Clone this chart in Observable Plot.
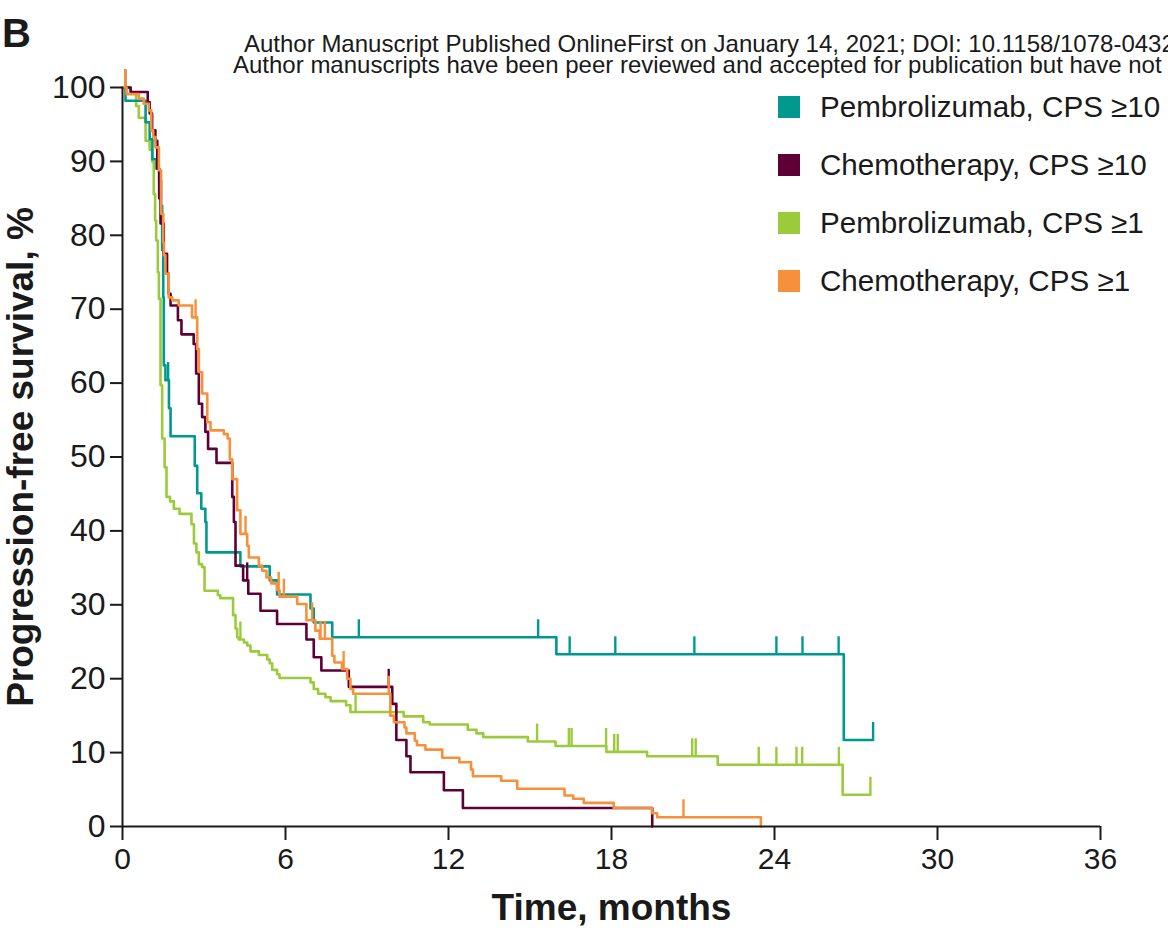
<!DOCTYPE html>
<html>
<head>
<meta charset="utf-8">
<script src="https://cdn.jsdelivr.net/npm/d3@7"></script>
<script src="https://cdn.jsdelivr.net/npm/@observablehq/plot@0.6"></script>
<style>
html,body{margin:0;padding:0;background:#fff;overflow:hidden;}
#wrap{position:relative;width:1168px;height:928px;overflow:hidden;font-family:"Liberation Sans",Arial,sans-serif;color:#1a1a1a;}
#chart{position:absolute;left:0;top:0;}
.abs{position:absolute;white-space:nowrap;}
.hdr{font-size:24px;line-height:20px;}
.panel{font-size:40px;line-height:40px;font-weight:bold;}
.sw{position:absolute;width:22px;height:22px;}
.lg{font-size:29.6px;line-height:28px;}
</style>
</head>
<body>
<div id="wrap">
  <div id="chart"></div>
  <div class="abs panel" style="left:2px;top:13px;">B</div>
  <div class="abs hdr" style="left:244px;top:33.7px;">Author Manuscript Published OnlineFirst on January 14, 2021; DOI: 10.1158/1078-0432</div>
  <div class="abs hdr" style="left:233px;top:54.7px;">Author manuscripts have been peer reviewed and accepted for publication but have not</div>
  <div id="legend"></div>
</div>
<script>
// ---- data ----
const xTicks = [0, 6, 12, 18, 24, 30, 36];
const yTicks = [0, 10, 20, 30, 40, 50, 60, 70, 80, 90, 100];
const seriesNames = ["Pembrolizumab, CPS \u226510", "Chemotherapy, CPS \u226510", "Pembrolizumab, CPS \u22651", "Chemotherapy, CPS \u22651"];
const seriesColors = ["#00998F", "#5E0035", "#9BCB3B", "#F7903A"];

// Kaplan-Meier steps: [time (months), progression-free survival (%)]
const pembro10Steps = [[0,100],[0.11,98.2],[0.85,95.3],[1.0,93],[1.1,90.3],[1.25,89],[1.35,87.4],[1.42,84],[1.46,78],[1.5,71.6],[1.52,62.4],[1.58,60.4],[1.71,56.6],[1.77,52.8],[2.66,48.8],[2.75,45.1],[2.9,43.0],[3.05,41.2],[3.09,37.1],[4.34,35.2],[5.42,33.3],[5.69,31.4],[6.92,29.5],[7.04,27.6],[7.72,25.6],[15.97,23.3],[26.55,11.7],[27.63,11.7]];
const chemo10Steps = [[0,100],[0.3,99.4],[0.93,98],[1.0,96.5],[1.09,94.2],[1.21,92.8],[1.28,89],[1.35,85],[1.4,81.6],[1.52,77.5],[1.64,74.8],[1.7,72.1],[1.77,70.5],[2.04,68.5],[2.17,66.6],[2.62,65.3],[2.71,61.3],[2.81,57.2],[2.93,55.4],[3.05,53.4],[3.15,51.1],[3.46,49.2],[4.04,44.6],[4.1,41.2],[4.16,35.3],[4.44,33.3],[4.63,31.5],[5.08,29.2],[5.69,27.4],[6.77,25.3],[7.04,22.9],[7.32,21.1],[8.33,18.9],[9.93,16.6],[10.08,11.7],[10.45,9.5],[10.6,7.35],[11.83,4.9],[12.53,2.5],[19.5,0]];
const pembro1Steps = [[0,100],[0.3,99.3],[0.5,97.5],[0.6,95.9],[0.85,92.8],[1.0,91.6],[1.09,90],[1.15,85.6],[1.2,82],[1.24,79.3],[1.3,75],[1.34,71.4],[1.4,59.7],[1.46,52.5],[1.55,48.6],[1.62,44.6],[1.75,44.0],[1.89,43.0],[2.1,42.3],[2.54,40.9],[2.63,38.3],[2.72,37.1],[2.81,35.5],[2.93,35.1],[3.02,31.9],[3.51,31.3],[3.6,30.9],[4.07,28.6],[4.16,26.8],[4.22,25.6],[4.28,25.3],[4.47,24.9],[4.59,24.5],[4.71,23.7],[5.02,23.2],[5.33,22.6],[5.42,22.1],[5.51,21.2],[5.69,20.6],[5.78,20.1],[6.92,19.5],[7.04,18.6],[7.2,17.96],[7.47,17.5],[7.66,16.96],[8.23,16.4],[8.39,15.5],[10.35,14.9],[11.07,14.1],[11.31,13.8],[12.71,13.1],[13.03,12.6],[13.28,12.1],[14.92,11.5],[15.94,10.9],[17.81,10.1],[19.31,9.5],[21.91,8.35],[26.51,4.3],[27.53,4.3]];
const chemo1Steps = [[0,100],[0.15,99.1],[0.6,98.5],[0.78,97.8],[0.97,96.9],[1.06,94.2],[1.13,93.3],[1.21,91.9],[1.34,88.8],[1.42,82.9],[1.5,79],[1.52,77.3],[1.58,74.8],[1.7,71.6],[1.83,71.2],[2.07,70.5],[2.56,68.9],[2.75,64.6],[2.81,61.5],[2.93,58.6],[3.12,54.7],[3.24,53.6],[3.73,53.1],[3.87,52.5],[3.95,49.7],[4.04,47.0],[4.22,42.8],[4.34,39.6],[4.59,38.0],[4.65,36.4],[5.02,35.3],[5.14,34.6],[5.3,33.7],[5.47,32.9],[5.69,32.0],[5.78,31.1],[6.43,30.1],[6.77,27.9],[7.1,26.5],[7.26,25.4],[7.72,23.1],[7.8,22.2],[8.08,21.3],[8.27,20.0],[8.39,18.6],[8.49,17.96],[9.86,15.0],[9.99,14.1],[10.38,13.4],[10.45,12.6],[10.76,11.6],[10.84,11.0],[11.15,10.4],[11.77,9.3],[12.4,8.7],[12.83,7.7],[12.9,6.8],[13.94,6.2],[14.53,5.1],[16.27,4.2],[16.59,3.75],[16.98,3.2],[18.08,2.5],[19.49,1.8],[19.68,1.25],[23.5,0]];

// censoring times (months)
const pembro10Censor = [1.68, 8.7, 15.3, 16.46, 18.14, 21.05, 24.07, 25.03, 26.36, 27.63];
const chemo10Censor = [0.1, 4.59, 9.8];
const pembro1Censor = [4.34, 8.58, 15.26, 16.43, 16.53, 17.8, 18.1, 18.23, 20.97, 21.1, 23.42, 24.07, 24.81, 25.02, 26.37, 27.53];
const chemo1Censor = [0.1, 2.69, 4.53, 5.75, 5.94, 6.98, 7.29, 7.45, 8.14, 9.8, 20.65];

// ---- build ----
const stepsList = [pembro10Steps, chemo10Steps, pembro1Steps, chemo1Steps];
const censorList = [pembro10Censor, chemo10Censor, pembro1Censor, chemo1Censor];
const drawOrder = [2, 0, 1, 3];
const censorTick = 2.37; // tick height in survival units

function survivalAt(steps, t) {
  let s = steps[0][1];
  for (const [st, sv] of steps) if (st <= t + 1e-9) s = sv;
  return s;
}

const lineMarks = [];
const censorMarks = [];
for (const i of drawOrder) {
  const pts = stepsList[i].map(([t, s]) => ({t, s}));
  lineMarks.push(Plot.line(pts, {x: "t", y: "s", curve: "step-after", stroke: seriesColors[i], strokeWidth: 2.6}));
  const cens = censorList[i].map(t => ({t, s: survivalAt(stepsList[i], t)}));
  censorMarks.push(Plot.ruleX(cens, {x: "t", y1: "s", y2: d => d.s + censorTick, stroke: seriesColors[i], strokeWidth: 2.4}));
}

const chart = Plot.plot({
  width: 1168,
  height: 928,
  marginLeft: 122,
  marginRight: 68,
  marginTop: 87,
  marginBottom: 102,
  style: {fontFamily: '"Liberation Sans", Arial, sans-serif', background: "#fff", color: "#1a1a1a"},
  x: {domain: [0, 36]},
  y: {domain: [0, 100]},
  marks: [
    ...lineMarks,
    ...censorMarks,
    Plot.ruleX([0], {stroke: "#1a1a1a", strokeWidth: 2}),
    Plot.ruleY([0], {stroke: "#1a1a1a", strokeWidth: 2}),
    Plot.axisX({ticks: xTicks, tickSize: 14, tickPadding: 7, fontSize: 30, stroke: "#1a1a1a", strokeWidth: 2, fill: "#1a1a1a", label: null, tickFormat: d => d}),
    Plot.axisY({ticks: yTicks, tickSize: 12, tickPadding: 5, fontSize: 32, stroke: "#1a1a1a", strokeWidth: 2, fill: "#1a1a1a", label: null, tickFormat: d => d}),
    Plot.text(["Progression-free survival, %"], {text: d => d, frameAnchor: "left", dx: -101, rotate: -90, fontSize: 37, fontWeight: "bold", textAnchor: "middle", lineAnchor: "middle", fill: "#1a1a1a"}),
    Plot.text(["Time, months"], {text: d => d, frameAnchor: "bottom", dy: 82, fontSize: 37, fontWeight: "bold", textAnchor: "middle", lineAnchor: "middle", fill: "#1a1a1a"})
  ]
});
document.getElementById("chart").appendChild(chart);

// legend
const legendCenters = [106.5, 164.5, 222.8, 280.8];
const legend = document.getElementById("legend");
seriesNames.forEach((name, i) => {
  const sw = document.createElement("div");
  sw.className = "sw";
  sw.style.left = "778px";
  sw.style.top = (legendCenters[i] - 11) + "px";
  sw.style.background = seriesColors[i];
  legend.appendChild(sw);
  const tx = document.createElement("div");
  tx.className = "abs lg";
  tx.style.left = "820px";
  tx.style.top = (legendCenters[i] - 13.6) + "px";
  tx.textContent = name;
  legend.appendChild(tx);
});
</script>
</body>
</html>
